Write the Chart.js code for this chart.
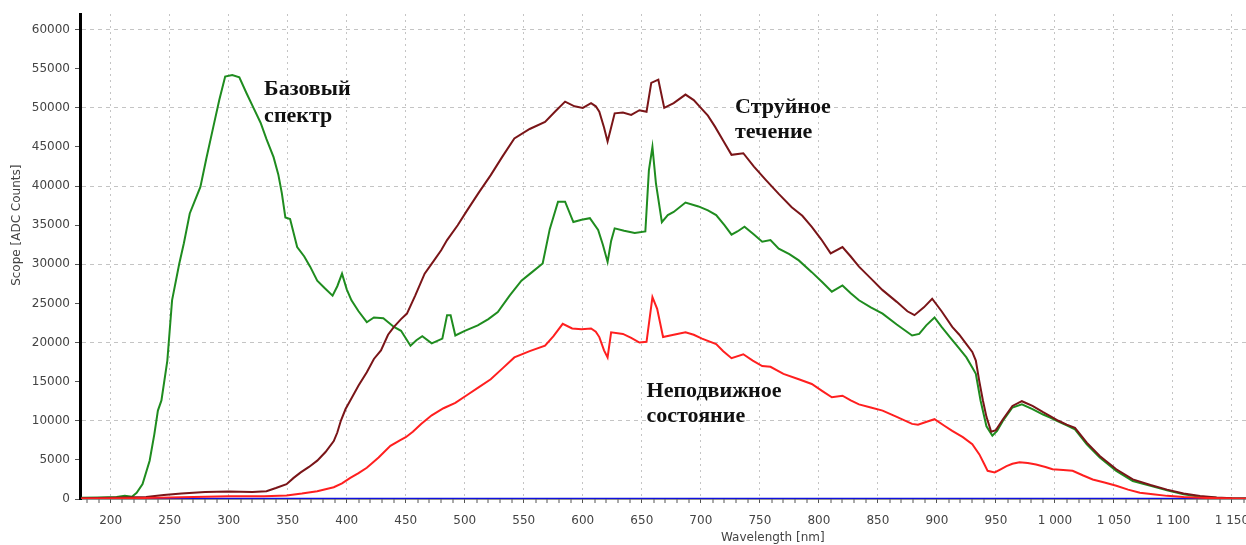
<!DOCTYPE html>
<html>
<head>
<meta charset="utf-8">
<script src="https://cdn.jsdelivr.net/npm/chart.js@4/dist/chart.umd.min.js"></script>
<style>
    html, body { margin: 0; padding: 0; background: #fff; overflow: hidden; }
    #wrap { width: 1265px; height: 545px; }
</style>
</head>
<body>
<div id="wrap"><canvas id="myChart" width="1265" height="545"></canvas></div>
<script>
// wavelength [nm] / counts
const baseNm = [175,190,205,212,218,222,227,233,237,240,243,248,252,258,262,267,271,276,281,287,292,297,303,309,315,321,327,332,338,342,345,348,352,358,364,369,375,381,388,392,396,400,404,410,417,423,431,440,446,454,459,464,472,481,485,488,492,500,511,520,528,538,548,557,566,572,579,585,592,599,606,613,617,621,624,627,635,644,653,656,659,662,667,672,677,687,698,706,713,720,726,731,737,745,752,759,766,775,783,794,803,811,820,827,834,844,854,866,879,885,891,898,904,911,918,925,930,933,937,942,947,951,956,964,972,981,990,996,1003,1010,1017,1027,1038,1052,1066,1081,1095,1109,1123,1137,1150,1165];
const baseCounts = [150,200,250,400,300,800,1900,4900,8300,11300,12600,17700,25400,30000,32700,36500,38000,39900,43500,47600,51000,54000,54200,53900,51900,50000,48100,46000,43700,41500,39100,36000,35800,32200,31000,29700,27900,27000,26000,27200,28800,26800,25400,24000,22600,23200,23100,22000,21500,19600,20300,20800,19900,20500,23500,23500,20900,21500,22200,23000,23900,26000,27900,29000,30100,34500,38000,38000,35400,35700,35900,34400,32500,30300,33000,34600,34300,34000,34200,42000,45000,40300,35400,36300,36700,37900,37400,36900,36300,35000,33800,34200,34800,33800,32900,33100,32000,31300,30500,29000,27700,26500,27300,26300,25400,24500,23700,22300,20900,21100,22200,23200,22000,20700,19400,18100,16800,16000,12600,9300,8100,8700,10000,11700,12100,11500,10800,10400,9900,9400,8900,7000,5300,3600,2300,1700,1100,600,300,150,80,50];

const jetNm = [175,200,230,245,260,280,300,320,332,340,349,355,361,368,375,382,389,392,395,399,403,410,417,423,429,435,440,446,451,458,466,474,480,485,494,502,512,522,532,542,555,568,577,585,593,600,607,611,614,618,621,624,627,634,641,648,654,658,664,669,677,687,694,700,706,712,719,726,736,745,755,766,777,786,794,802,810,820,827,834,844,854,866,875,881,889,896,904,913,919,925,930,933,936,939,942,946,950,956,964,972,981,990,996,1003,1010,1017,1027,1038,1052,1066,1081,1095,1109,1123,1137,1150,1165];
const jetCounts = [100,150,250,500,700,900,950,900,1000,1400,1900,2700,3400,4100,4900,6000,7400,8500,10000,11500,12600,14500,16200,17900,19000,21000,22000,23000,23700,26000,28800,30500,31800,33100,35000,36900,39200,41400,43800,46100,47300,48200,49600,50800,50200,50000,50600,50200,49500,47500,45700,47500,49300,49400,49100,49700,49500,53200,53600,50000,50600,51700,51000,50000,49000,47600,45800,44000,44200,42500,40800,39000,37300,36200,34800,33200,31400,32200,31000,29700,28200,26700,25200,24000,23500,24500,25600,24000,22000,21000,19800,18800,17700,15000,12600,10500,8600,8800,10200,11900,12500,11900,11100,10600,10000,9500,9100,7200,5500,3800,2500,1800,1200,700,400,200,100,60];

const restNm = [175,220,250,300,330,349,362,375,389,396,403,410,417,427,437,445,450,456,463,472,482,492,502,512,522,532,542,555,568,575,583,591,599,607,611,614,618,621,624,634,641,648,654,659,663,668,677,687,694,701,713,719,726,736,744,752,759,770,783,794,803,811,820,827,834,844,854,866,879,884,892,898,906,913,922,930,936,940,943,949,954,959,964,970,977,984,992,998,1007,1015,1024,1032,1042,1052,1062,1072,1083,1095,1109,1123,1140,1165];
const restCounts = [50,100,200,350,350,450,700,1000,1500,2000,2700,3300,4000,5300,6800,7500,7900,8600,9600,10700,11600,12300,13300,14300,15300,16700,18100,18900,19600,20800,22400,21800,21700,21800,21400,20700,19000,18100,21300,21100,20600,20000,20100,25800,24300,20700,21000,21300,21000,20500,19800,18900,18000,18500,17700,17000,16900,16000,15300,14700,13800,13000,13200,12600,12100,11700,11300,10500,9600,9500,9900,10200,9400,8700,7900,7000,5700,4500,3600,3400,3800,4200,4500,4700,4600,4400,4100,3800,3700,3600,3000,2500,2100,1700,1200,800,600,400,250,150,80,40];

const zeroNm = [175, 1178];
const zeroCounts = [0, 0];

const xTickStep = 10;
const yTicks = [0,5000,10000,15000,20000,25000,30000,35000,40000,45000,50000,55000,60000];

const notes = [
    { lines: ['Базовый', 'спектр'], nm: 330, counts: 51650, gap: 27 },
    { lines: ['Струйное', 'течение'], nm: 729, counts: 49350, gap: 25 },
    { lines: ['Неподвижное', 'состояние'], nm: 654, counts: 13040, gap: 25 }
];

function pts(xs, ys) {
    let out = [];
    for (let i = 0; i < xs.length; i++) {
        out.push({ x: xs[i], y: ys[i] });
    }
    return out;
}

function fmtNm(v) {
    if (v >= 1000) {
        return Math.floor(v / 1000) + ' ' + String(v % 1000).padStart(3, '0');
    }
    return String(v);
}

// texts that sit on the plot + axis titles
const textPlugin = {
    id: 'texts',
    afterDraw(chart) {
        const c = chart.ctx;
        const xs = chart.scales.x;
        const ys = chart.scales.y;
        c.save();
        c.fillStyle = '#111';
        c.font = 'bold 22px "Liberation Serif"';
        c.textAlign = 'left';
        c.textBaseline = 'alphabetic';
        notes.forEach(n => {
            let px = xs.getPixelForValue(n.nm);
            let py = ys.getPixelForValue(n.counts);
            n.lines.forEach((t, i) => c.fillText(t, px, py + i * n.gap));
        });

        c.fillStyle = '#444';
        c.font = '12px "DejaVu Sans"';
        c.textAlign = 'center';
        c.textBaseline = 'middle';
        c.fillText('Wavelength [nm]', xs.getPixelForValue(761), 538);
        c.translate(17, ys.getPixelForValue(35000));
        c.rotate(-Math.PI / 2);
        c.fillText('Scope [ADC Counts]', 0, 0);
        c.restore();
    }
};

const ctx = document.getElementById('myChart').getContext('2d');
const myChart = new Chart(ctx, {
    type: 'line',
    data: {
        datasets: [
            { data: pts(restNm, restCounts), borderColor: '#ff1f1f', borderWidth: 2 },
            { data: pts(jetNm, jetCounts), borderColor: '#7a1518', borderWidth: 2 },
            { data: pts(baseNm, baseCounts), borderColor: '#1f8c1f', borderWidth: 2 },
            { data: pts(zeroNm, zeroCounts), borderColor: '#1010e0', borderWidth: 2.5 }
        ]
    },
    options: {
        responsive: false,
        animation: false,
        devicePixelRatio: 1,
        elements: { point: { radius: 0 }, line: { tension: 0 } },
        layout: { padding: { top: 14, left: 0, right: 0, bottom: 0 } },
        plugins: {
            legend: { display: false },
            tooltip: { enabled: false }
        },
        scales: {
            x: {
                type: 'linear',
                min: 174,
                max: 1178,
                afterFit: s => {
                    s.height = 46;
                    s.paddingLeft = 0;
                    s.paddingRight = 0;
                },
                afterBuildTicks: s => {
                    let t = [];
                    for (let v = 180; v <= 1170; v += xTickStep) t.push({ value: v });
                    s.ticks = t;
                },
                ticks: {
                    autoSkip: false,
                    maxRotation: 0,
                    padding: 11,
                    color: '#444',
                    font: { family: 'DejaVu Sans', size: 12 },
                    callback: v => (v % 50 === 0 ? fmtNm(v) : '')
                },
                grid: {
                    color: c => (c.tick && c.tick.value % 50 === 0 ? '#c4c4c4' : 'rgba(0,0,0,0)'),
                    lineWidth: c => (c.tick && c.tick.value % 50 === 0 ? 1 : 0),
                    tickColor: '#555',
                    tickWidth: 1,
                    tickLength: 4
                },
                border: { display: true, color: '#222', width: 1.5, dash: [2, 4] }
            },
            y: {
                type: 'linear',
                min: 0,
                max: 62000,
                afterFit: s => { s.width = 80; },
                afterBuildTicks: s => {
                    s.ticks = yTicks.map(v => ({ value: v }));
                },
                ticks: {
                    padding: 5,
                    color: '#444',
                    font: { family: 'DejaVu Sans', size: 12 },
                    callback: v => String(v)
                },
                grid: {
                    color: c => (c.tick && c.tick.value % 10000 === 0 && c.tick.value > 0 ? '#c4c4c4' : 'rgba(0,0,0,0)'),
                    lineWidth: 1,
                    tickColor: '#555',
                    tickWidth: 1,
                    tickLength: 5
                },
                border: { display: true, color: '#000', width: 3, dash: [4, 4] }
            }
        }
    },
    plugins: [textPlugin]
});
</script>
</body>
</html>
